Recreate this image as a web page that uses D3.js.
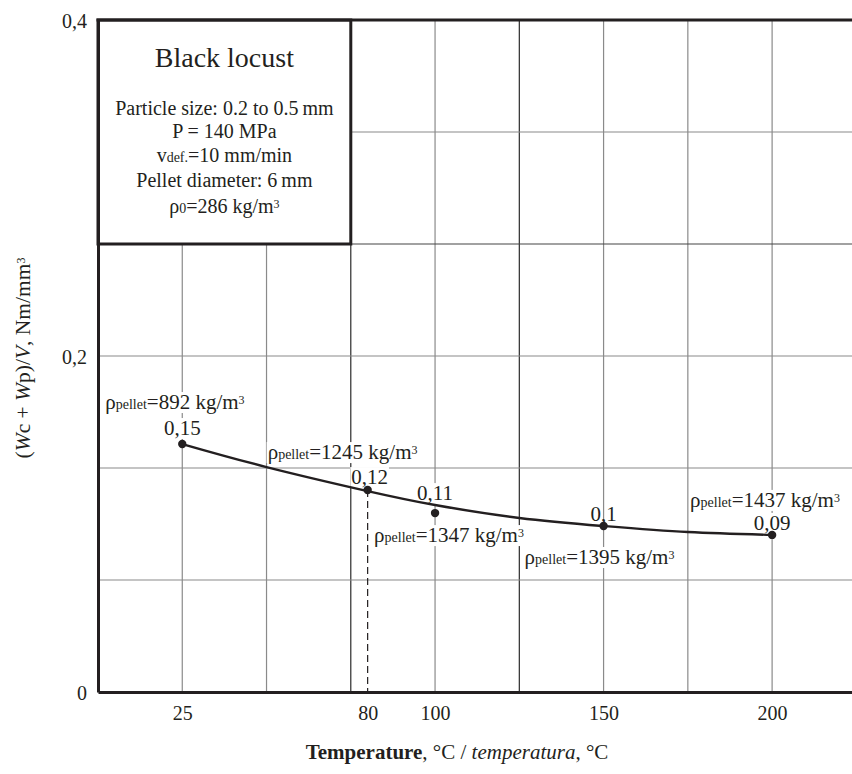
<!DOCTYPE html>
<html>
<head>
<script src="https://d3js.org/d3.v7.min.js"></script>
<style>
  body { margin: 0; background: #fff; }
  text { font-family: "Liberation Serif", "Times New Roman", serif; fill: #231f20; }
</style>
</head>
<body>
<script>
// data
var temps = [25, 80, 100, 150, 200];
var energy = [0.1476, 0.1202, 0.1065, 0.0988, 0.0935];
var energyLabels = ["0,15", "0,12", "0,11", "0,1", "0,09"];
var densities = [892, 1245, 1347, 1395, 1437];
// fitted trend curve at the grid lines
var trendTemps = [25, 50, 80, 100, 125, 150, 175, 200];
var trendValues = [0.1476, 0.1339, 0.1196, 0.1113, 0.1036, 0.0988, 0.0952, 0.0935];
var xTicks = [25, 80, 100, 150, 200];
var yTicks = [0, 0.2, 0.4];
var yTickLabels = ["0", "0,2", "0,4"];
var xGrid = [25, 50, 75, 100, 125, 150, 175, 200];
var xGridDark = [75, 125];
var yGrid = [1, 2, 3, 4, 5].map(function (i) { return i * 0.4 / 6; });

// label offsets from their point (pixels)
var densityOffsets = [[-77, -35], [-100, -31], [-61, 29], [-79, 38], [-82, -28]];
var valueOffsets = [[0, -9], [2, -6], [0, -13], [0, -5], [0, -5]];

var width = 852, height = 774;
var ink = "#231f20";

var svg = d3.select("body").append("svg")
  .attr("width", width)
  .attr("height", height);

var x = d3.scaleLinear().domain([0, 224]).range([98, 853]);
var y = d3.scaleLinear().domain([0, 0.4]).range([692, 20]);

// grid
svg.append("g").selectAll("line")
  .data(xGrid)
  .enter().append("line")
  .attr("x1", function (d) { return x(d); })
  .attr("x2", function (d) { return x(d); })
  .attr("y1", y(0.4))
  .attr("y2", y(0))
  .attr("stroke", function (d) { return xGridDark.indexOf(d) >= 0 ? "#2a2a2a" : "#8a8a8a"; })
  .attr("stroke-width", 1.2);

svg.append("g").selectAll("line")
  .data(yGrid)
  .enter().append("line")
  .attr("x1", x(0))
  .attr("x2", x(224))
  .attr("y1", function (d) { return y(d); })
  .attr("y2", function (d) { return y(d); })
  .attr("stroke", function (d, i) { return i == 3 ? "#444" : "#8a8a8a"; })
  .attr("stroke-width", 1.2);

// info box
svg.append("rect")
  .attr("x", x(0))
  .attr("y", y(0.4))
  .attr("width", x(75) - x(0))
  .attr("height", y(yGrid[3]) - y(0.4))
  .attr("fill", "#fff")
  .attr("stroke", ink)
  .attr("stroke-width", 3);

var cx = (x(0) + x(75)) / 2;
var info = [
  { size: 28, base: 67, parts: [["Black locust"]] },
  { size: 20, base: 115, parts: [["Particle size: 0.2 to 0.5\u2009mm"]] },
  { size: 20, base: 138, parts: [["P = 140 MPa"]] },
  { size: 20, base: 162, parts: [["v"], ["def.", "sub"], ["=10 mm/min"]] },
  { size: 20, base: 187, parts: [["Pellet diameter: 6\u2009mm"]] },
  { size: 20, base: 213, parts: [["\u03c1"], ["0", "sub"], ["=286 kg/m"], ["3", "sup"]] }
];

function richText(t, parts, size) {
  parts.forEach(function (p) {
    var s = t.append("tspan").text(p[0]);
    if (p[1] == "sub") {
      s.attr("font-size", Math.round(size * 0.68));
    } else if (p[1] == "sup") {
      s.attr("font-size", Math.round(size * 0.58)).attr("dy", -size * 0.25);
    } else if (p[1] == "i") {
      s.attr("font-style", "italic");
    } else if (p[1] == "b") {
      s.attr("font-weight", "bold");
    }
  });
}

info.forEach(function (l) {
  var t = svg.append("text")
    .attr("x", cx)
    .attr("y", l.base)
    .attr("text-anchor", "middle")
    .attr("font-size", l.size);
  richText(t, l.parts, l.size);
});

var pts = temps.map(function (t, i) { return [t, energy[i]]; });

// labels with white backing, under the curve
var labels = svg.append("g");
function backed(t) {
  var b = t.node().getBBox();
  labels.insert("rect", function () { return t.node(); })
    .attr("x", b.x - 1)
    .attr("y", b.y + 2)
    .attr("width", b.width + 2)
    .attr("height", b.height - 3)
    .attr("fill", "#fff");
}

pts.forEach(function (d, i) {
  var px = x(d[0]), py = y(d[1]);
  var dt = labels.append("text")
    .attr("x", px + densityOffsets[i][0])
    .attr("y", py + densityOffsets[i][1])
    .attr("font-size", 21);
  richText(dt, [["\u03c1"], ["pellet", "sub"], ["=" + densities[i] + " kg/m"], ["3", "sup"]], 21);
  backed(dt);

  var vt = labels.append("text")
    .attr("x", px + valueOffsets[i][0])
    .attr("y", py + valueOffsets[i][1])
    .attr("text-anchor", "middle")
    .attr("font-size", 21)
    .text(energyLabels[i]);
  if (i != 3) backed(vt);
});

// dashed guide at 80 °C
svg.append("line")
  .attr("x1", x(temps[1]))
  .attr("x2", x(temps[1]))
  .attr("y1", y(energy[1]))
  .attr("y2", y(0))
  .attr("stroke", ink)
  .attr("stroke-width", 1.2)
  .attr("stroke-dasharray", "7,4");

// trend curve
var trend = trendTemps.map(function (t, i) { return [t, trendValues[i]]; });
var line = d3.line()
  .x(function (d) { return x(d[0]); })
  .y(function (d) { return y(d[1]); })
  .curve(d3.curveNatural);

svg.append("path")
  .attr("d", line(trend))
  .attr("fill", "none")
  .attr("stroke", ink)
  .attr("stroke-width", 2.4);

svg.append("g").selectAll("circle")
  .data(pts)
  .enter().append("circle")
  .attr("cx", function (d) { return x(d[0]); })
  .attr("cy", function (d) { return y(d[1]); })
  .attr("r", 4.2)
  .attr("fill", ink);

// axes
var xAxis = svg.append("g")
  .attr("transform", "translate(0," + y(0) + ")")
  .call(d3.axisBottom(x).tickValues(xTicks).tickSize(0).tickSizeOuter(0).tickPadding(14));

var yAxis = svg.append("g")
  .attr("transform", "translate(" + x(0) + ",0)")
  .call(d3.axisLeft(y).tickValues(yTicks).tickSize(0).tickSizeOuter(0).tickPadding(11)
    .tickFormat(function (d, i) { return yTickLabels[i]; }));

[xAxis, yAxis].forEach(function (g) {
  g.attr("font-family", null).attr("font-size", null);
  g.select(".domain").attr("stroke", ink).attr("stroke-width", 3);
  g.selectAll("text").attr("font-size", 20).attr("fill", ink);
});
yAxis.selectAll("text").attr("dy", "0.36em");

svg.append("line")
  .attr("x1", x(0) - 1.5)
  .attr("x2", x(224))
  .attr("y1", y(0.4))
  .attr("y2", y(0.4))
  .attr("stroke", ink)
  .attr("stroke-width", 3);

// axis titles
var xt = svg.append("text")
  .attr("x", 457)
  .attr("y", 759)
  .attr("text-anchor", "middle")
  .attr("font-size", 21);
richText(xt, [["Temperature", "b"], [", \u00b0C / "], ["temperatura", "i"], [", \u00b0C"]], 21);

var yt = svg.append("text")
  .attr("transform", "translate(30,358) rotate(-90)")
  .attr("text-anchor", "middle")
  .attr("font-size", 21.5);
richText(yt, [["("], ["W", "i"], ["c + "], ["W", "i"], ["p)/"], ["V", "i"], [", Nm/mm"], ["3", "sup"]], 21.5);
</script>
</body>
</html>
